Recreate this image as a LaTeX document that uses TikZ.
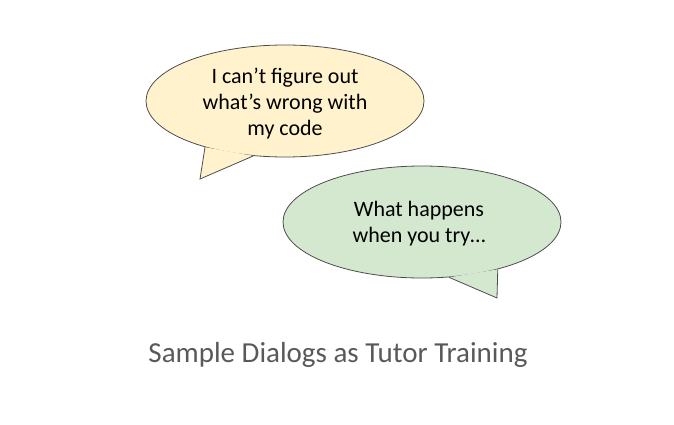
\documentclass[tikz,border=0pt]{standalone}
\usepackage{fontspec}
\setmainfont{Carlito}
\usetikzlibrary{shapes.geometric}

\definecolor{askYellow}{HTML}{FFF2CC}
\definecolor{replyGreen}{HTML}{D3E8CF}
\definecolor{outlineGray}{HTML}{4D4D4D}
\definecolor{titleGray}{HTML}{595959}

\begin{document}
\begin{tikzpicture}[x=1pt,y=-1pt]
    % Bubble size (same for both bubbles)
    \def\bubbleWidth{278pt}
    \def\bubbleHeight{112pt}

    \tikzset{
        bubble/.style={draw=outlineGray, ellipse, line width=0.8pt, minimum width=\bubbleWidth, minimum height=\bubbleHeight, inner sep=0pt},
        tailline/.style={draw=outlineGray, line width=0.8pt, line join=miter},
        saying/.style={align=center, font=\fontsize{22}{26}\selectfont},
    }

    \useasboundingbox (0,0) rectangle (674,425);

    % Yellow bubble (the student)
    \node[bubble, fill=askYellow] (student) at (285,101) {};
    \coordinate (studentTip) at (200,179);
    \fill[askYellow] (student.210) -- (studentTip) -- (student.240) -- cycle;
    \draw[tailline] (student.210) -- (studentTip) -- (student.240);
    \node[saying] (studentText) at (285,104) {I can’t figure out\\what’s wrong with\\my code};

    % Green bubble (the tutor)
    \node[bubble, fill=replyGreen] (tutor) at (422,222) {};
    \coordinate (tutorTip) at (497,298);
    \fill[replyGreen] (tutor.296) -- (tutorTip) -- (tutor.328) -- cycle;
    \draw[tailline] (tutor.296) -- (tutorTip) -- (tutor.328);
    \node[saying] (tutorText) at (419,224) {What happens\\when you try…};

    % Title
    \node[text=titleGray, font=\fontsize{29}{34}\selectfont] (caption) at (338,355) {Sample Dialogs as Tutor Training};
\end{tikzpicture}
\end{document}
